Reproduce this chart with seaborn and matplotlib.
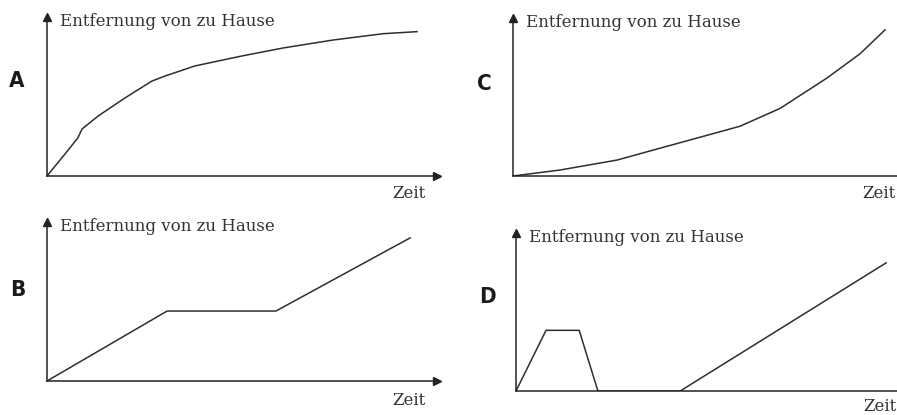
import matplotlib
matplotlib.use('Agg')
import matplotlib.pyplot as plt
import seaborn as sns
import pandas as pd

# Zeit (0-10) und Entfernung von zu Hause (0-10) fuer jedes Diagramm
zeit_a = [0, 0.46, 0.79, 0.90, 1.31, 2.00, 2.69, 3.03, 3.79, 5.00, 6.05, 7.33, 8.62, 9.49]
entf_a = [0, 1.38, 2.39, 2.96, 3.77, 4.91, 5.97, 6.29, 6.92, 7.55, 8.05, 8.55, 8.95, 9.08]

zeit_b = [0, 3.08, 5.87, 9.31]
entf_b = [0, 4.40, 4.40, 9.00]

zeit_c = [0, 1.21, 2.67, 3.77, 4.79, 5.82, 6.85, 8.05, 8.90, 9.54]
entf_c = [0, 0.38, 1.01, 1.76, 2.45, 3.15, 4.28, 6.20, 7.74, 9.25]

zeit_d = [0, 0.77, 1.62, 2.10, 4.21, 9.49]
entf_d = [0, 3.84, 3.84, 0, 0, 8.11]

buchstaben = ['A', 'B', 'C', 'D']
y_titel = 'Entfernung von zu Hause'
x_titel = 'Zeit'

W, H = 897, 415
fig = plt.figure(figsize=(W / 100, H / 100), dpi=100)
fig.patch.set_facecolor('white')

# Ursprung (Pixel), Hoehe der y-Achse, Buchstabenposition, Zeit-Position
panels = [
    (zeit_a, entf_a, 47, 176, 159, (17, 81), 0.97, -0.11),
    (zeit_b, entf_b, 47, 381, 159, (18, 290), 0.97, -0.12),
    (zeit_c, entf_c, 513, 176, 158, (484, 84), 0.98, -0.11),
    (zeit_d, entf_d, 516, 391, 158, (487, 297), 0.975, -0.10),
]

for (x, y, ox, oy, h, pos, zx, zy), name in zip(panels, buchstaben):
    ax = fig.add_axes([ox / W, (H - oy) / H, 390 / W, h / H])
    ax.set_facecolor('none')
    df = pd.DataFrame({'zeit': x, 'entfernung': y})
    sns.lineplot(data=df, x='zeit', y='entfernung', ax=ax, sort=False,
                 estimator=None, color='#2e2e2e', linewidth=1.1)
    ax.set_xlim(0, 10)
    ax.set_ylim(0, 10)
    ax.set_xticks([])
    ax.set_yticks([])
    ax.set_xlabel('')
    ax.set_ylabel('')
    for s in ['top', 'right']:
        ax.spines[s].set_visible(False)
    for s in ['left', 'bottom']:
        ax.spines[s].set_color('#222222')
        ax.spines[s].set_linewidth(1.1)
    # Pfeilspitzen
    ax.plot(1, 0, '>', color='#222222', ms=6, transform=ax.transAxes, clip_on=False)
    ax.plot(0, 1, '^', color='#222222', ms=6, transform=ax.transAxes, clip_on=False)
    ax.text(0.033, 0.97, y_titel, transform=ax.transAxes, ha='left', va='center',
            fontsize=12, family='DejaVu Serif', color='#333333')
    ax.text(zx, zy, x_titel, transform=ax.transAxes, ha='right', va='center',
            fontsize=12, family='DejaVu Serif', color='#333333')
    fig.text(pos[0] / W, 1 - pos[1] / H, name, ha='center', va='center',
             fontsize=16, fontweight='bold', fontstretch='condensed',
             family='DejaVu Sans', color='#1a1a1a')

fig.savefig('out.png', dpi=100, facecolor='white')
